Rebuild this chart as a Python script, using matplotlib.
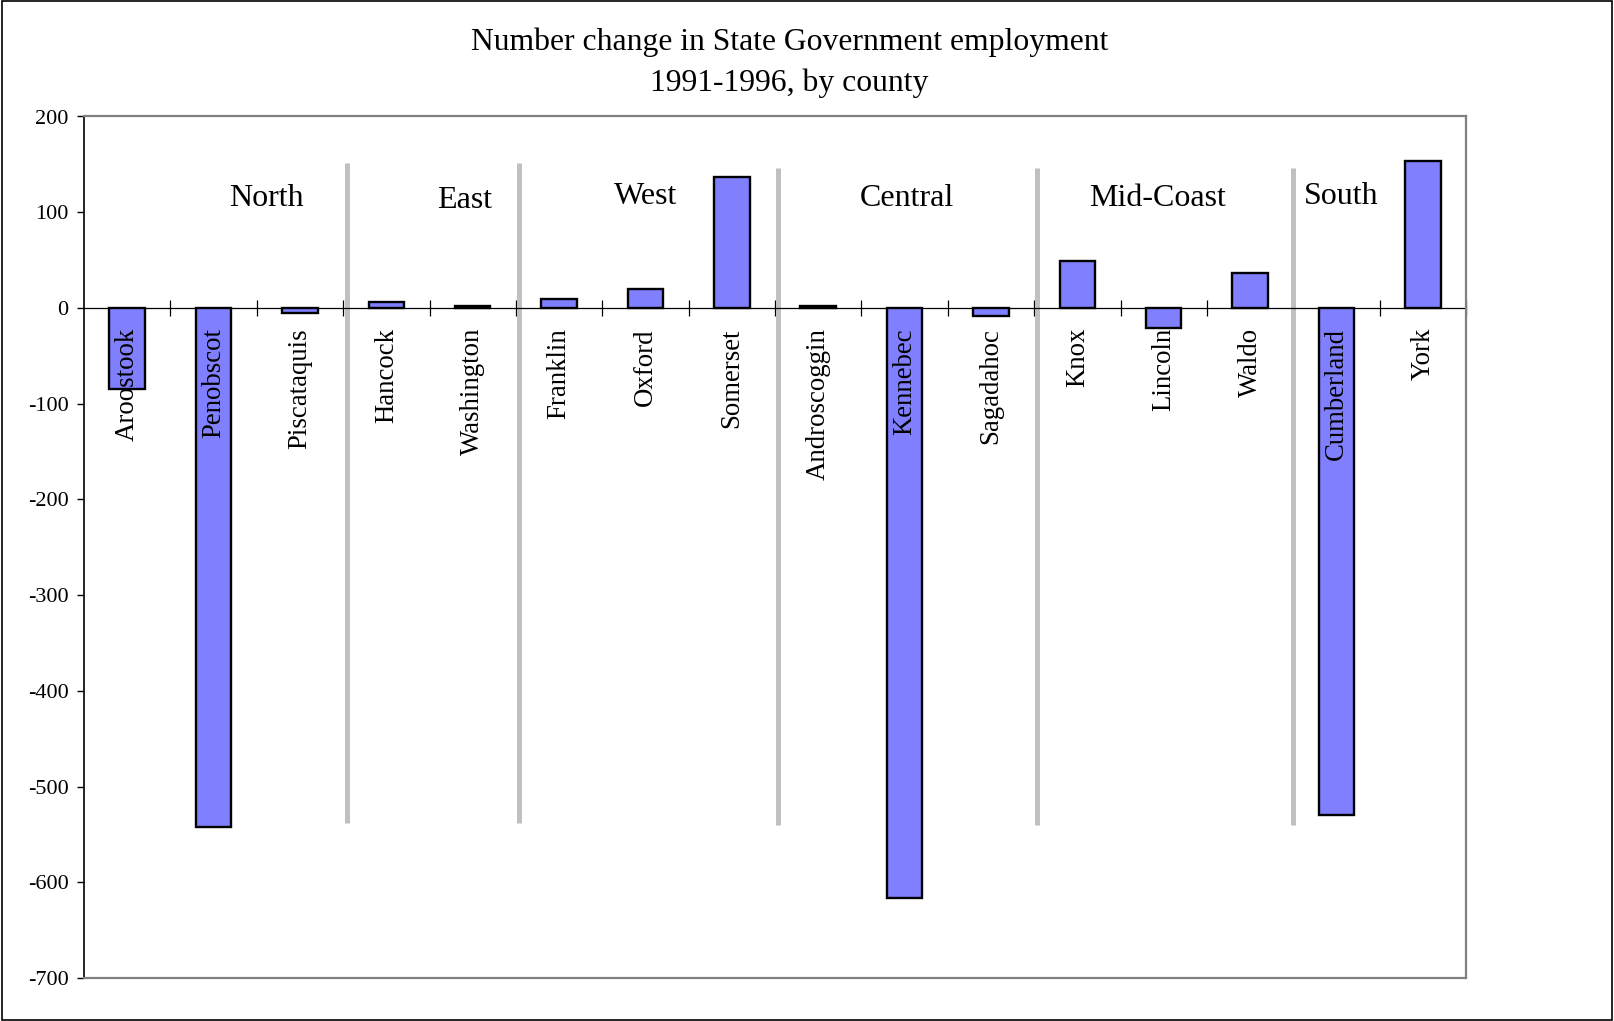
import matplotlib
matplotlib.use("Agg")
import matplotlib.pyplot as plt
from matplotlib.patches import Rectangle

# County values (change in state government jobs, 1991-1996)
counties = [
    "Aroostook", "Penobscot", "Piscataquis",
    "Hancock", "Washington",
    "Franklin", "Oxford", "Somerset",
    "Androscoggin", "Kennebec", "Sagadahoc",
    "Knox", "Lincoln", "Waldo",
    "Cumberland", "York",
]
changes = [-85, -542, -5, 6, 2, 9, 20, 137, 2, -616, -8, 49, -21, 37, -530, 154]

# Regions: label, label x (category units), label y
regions = ["North", "East", "West", "Central", "Mid-Coast", "South"]
region_x = [1.61, 3.91, 6.0, 9.03, 11.93, 14.05]
region_y = [114, 112, 116, 114, 114, 116]

# Dividers between regions: x, top, bottom
divider_x = [2.54, 4.54, 7.54, 10.53, 13.5]
divider_top = [151, 151, 146, 146, 146]
divider_bottom = [-538, -538, -540, -540, -540]

yticks = [200, 100, 0, -100, -200, -300, -400, -500, -600, -700]

plt.rcParams["font.family"] = ["Liberation Serif", "DejaVu Serif"]

fig = plt.figure(figsize=(16.14, 10.21), dpi=100)
ax = fig.add_axes([84 / 1614, 1 - 978 / 1021, (1466 - 84) / 1614, (978 - 116.5) / 1021])

x = list(range(len(counties)))
ax.bar(x, changes, width=0.41, color="#8080FF", edgecolor="black", linewidth=1.7, zorder=3)

ax.set_xlim(-0.5, len(counties) - 0.5)
ax.set_ylim(-700, 200)
ax.set_yticks(yticks)
ax.set_yticklabels([str(t) for t in yticks])
ax.tick_params(axis="y", direction="out", length=5, width=1, pad=6, labelsize=16)
ax.set_xticks([])

for side in ("top", "right", "bottom"):
    ax.spines[side].set_color("#808080")
    ax.spines[side].set_linewidth(1.6)
ax.spines["left"].set_color("black")
ax.spines["left"].set_linewidth(1.2)

# category axis running along the zero line
ax.axhline(0, color="black", linewidth=0.9, zorder=2.5)
sec = ax.secondary_xaxis(700 / 900)
sec.set_xticks([i + 0.5 for i in range(len(counties))])
sec.set_xticklabels([])
sec.tick_params(direction="inout", length=11, width=0.9, color="black")
for s in sec.spines.values():
    s.set_visible(False)

for xi, name in zip(x, counties):
    ax.text(xi, -21, name, rotation=90, ha="center", va="top", fontsize=19.3, zorder=4)

for xd, top, bot in zip(divider_x, divider_top, divider_bottom):
    ax.plot([xd, xd], [bot, top], color="#C0C0C0", linewidth=3.6, solid_capstyle="butt", zorder=2)

for name, rx, ry in zip(regions, region_x, region_y):
    ax.text(rx, ry, name, ha="center", va="center", fontsize=23)

fig.text(789.5 / 1614, 1 - 42 / 1021, "Number change in State Government employment",
         ha="center", va="center", fontsize=22.8)
fig.text(789.5 / 1614, 1 - 83 / 1021, "1991-1996, by county",
         ha="center", va="center", fontsize=22.8)

fig.patches.append(Rectangle((0.001, 0.001), 0.998, 0.998, transform=fig.transFigure,
                             fill=False, edgecolor="black", linewidth=1.2))

fig.savefig("out.png", dpi=100)
